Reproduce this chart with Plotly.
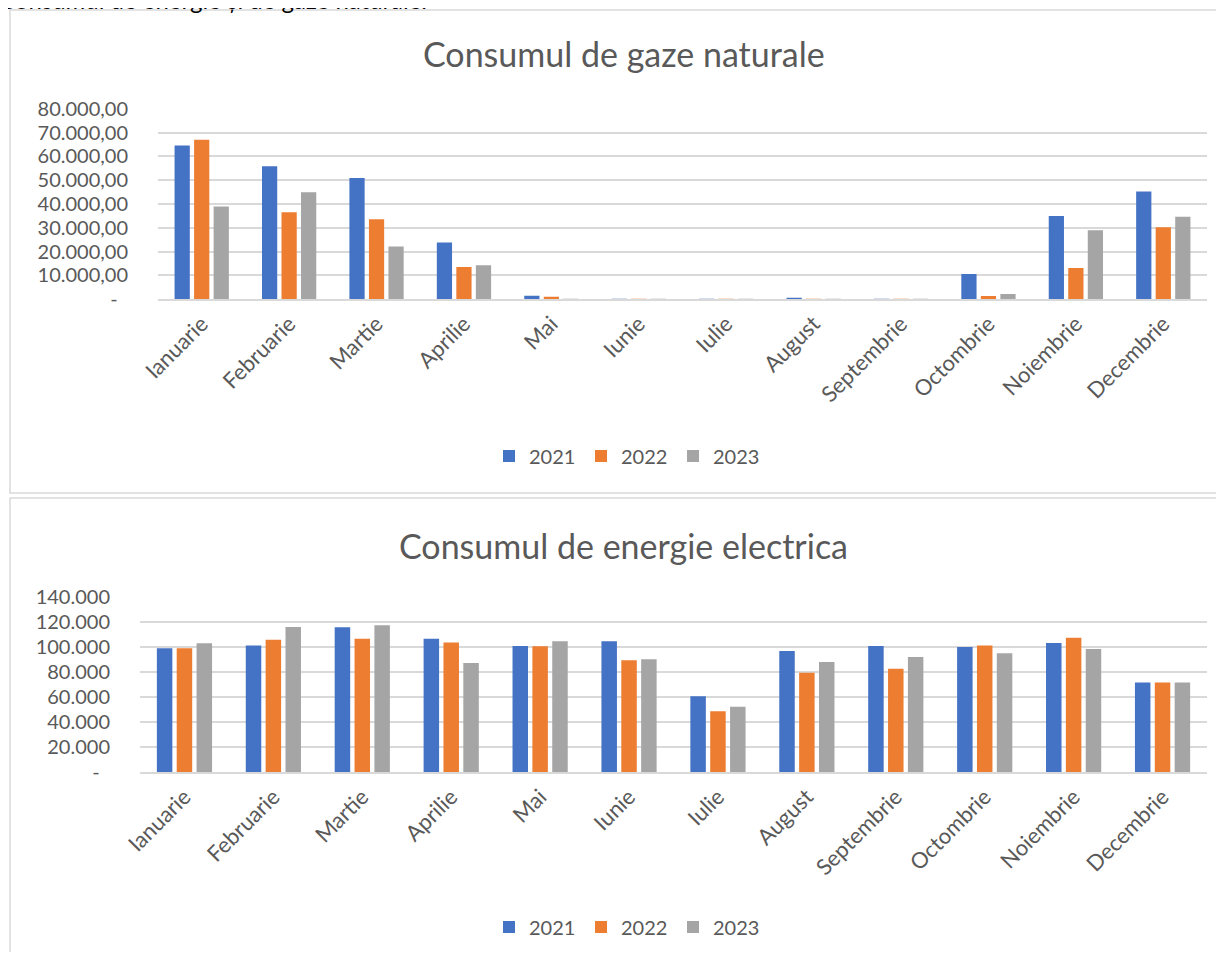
import plotly.graph_objects as go

# Page is 1224x960; the browser's default 8px body margin offsets the figure,
# so the figure is sized to fit inside it and all positions are given in page pixels.
OFF = 8
W, H = 1224 - 2 * OFF, 960 - 2 * OFF

months = ["Ianuarie", "Februarie", "Martie", "Aprilie", "Mai", "Iunie", "Iulie",
          "August", "Septembrie", "Octombrie", "Noiembrie", "Decembrie"]
years = ["2021", "2022", "2023"]
colors = ["#4472C4", "#ED7D31", "#A5A5A5"]

gaz_2021 = [64600, 55800, 50900, 23800, 1500, 60, 40, 400, 80, 10600, 35000, 45200]
gaz_2022 = [67000, 36500, 33600, 13600, 1100, 30, 60, 40, 30, 1400, 13100, 30200]
gaz_2023 = [39000, 44900, 22200, 14300, 150, 80, 80, 70, 80, 2200, 29000, 34700]

ee_2021 = [98900, 101000, 115600, 106500, 100700, 104500, 60600, 96700, 100700, 99900, 103100, 71500]
ee_2022 = [98900, 105700, 106500, 103400, 100500, 89300, 48600, 79400, 82600, 101000, 107300, 71500]
ee_2023 = [102900, 115900, 117200, 87200, 104500, 90100, 52300, 88000, 91900, 94900, 98300, 71500]

gaz_tickvals = [0, 10000, 20000, 30000, 40000, 50000, 60000, 70000, 80000]
gaz_ticktext = ["-\u00a0\u00a0", "10.000,00", "20.000,00", "30.000,00", "40.000,00",
                "50.000,00", "60.000,00", "70.000,00", "80.000,00"]
ee_tickvals = [0, 20000, 40000, 60000, 80000, 100000, 120000, 140000]
ee_ticktext = ["-\u00a0\u00a0", "20.000", "40.000", "60.000", "80.000", "100.000",
               "120.000", "140.000"]

title_gaz = "Consumul de gaze naturale"
title_ee = "Consumul de energie electrica"
heading = "Consumul de energie și de gaze naturale."

FONT = "Lato"
GRAY_TXT = "#595959"
GRID = "#D9D9D9"


def px_x(x):
    return (x - OFF) / W


def px_y(y):
    return 1 - (y - OFF) / H


fig = go.Figure()

for ys, name, c in zip([gaz_2021, gaz_2022, gaz_2023], years, colors):
    fig.add_trace(go.Bar(x=months, y=ys, name=name, marker=dict(color=c, line=dict(width=0)),
                         xaxis="x", yaxis="y", legend="legend"))
for ys, name, c in zip([ee_2021, ee_2022, ee_2023], years, colors):
    fig.add_trace(go.Bar(x=months, y=ys, name=name, marker=dict(color=c, line=dict(width=0)),
                         xaxis="x2", yaxis="y2", legend="legend2"))

yfont = dict(family=FONT, size=20, color=GRAY_TXT)
xfont = dict(family=FONT, size=22, color=GRAY_TXT)
lfont = dict(family=FONT, size=20, color=GRAY_TXT)

fig.update_layout(
    width=W, height=H,
    margin=dict(l=0, r=0, t=0, b=0, autoexpand=False),
    paper_bgcolor="white", plot_bgcolor="white",
    barmode="group", bargap=0.33, bargroupgap=0.22,
    font=dict(family=FONT, color=GRAY_TXT),
    xaxis=dict(domain=[px_x(158), px_x(1207)], anchor="y", tickangle=-45,
               tickfont=xfont, showline=True, linecolor=GRID, linewidth=2,
               showgrid=False, ticks="", ticklabelstandoff=1, automargin=False),
    yaxis=dict(domain=[px_y(299.3), px_y(108.7)], anchor="x", range=[0, 80000],
               tickvals=gaz_tickvals, ticktext=gaz_ticktext, tickfont=yfont,
               showgrid=True, gridcolor=GRID, gridwidth=2, zeroline=False,
               ticks="", ticklabelstandoff=29, showline=False, automargin=False),
    xaxis2=dict(domain=[px_x(140), px_x(1207)], anchor="y2", tickangle=-45,
                tickfont=xfont, showline=True, linecolor=GRID, linewidth=2,
                showgrid=False, ticks="", ticklabelstandoff=1, automargin=False),
    yaxis2=dict(domain=[px_y(772.3), px_y(596.7)], anchor="x2", range=[0, 140000],
                tickvals=ee_tickvals, ticktext=ee_ticktext, tickfont=yfont,
                showgrid=True, gridcolor=GRID, gridwidth=2, zeroline=False,
                ticks="", ticklabelstandoff=29, showline=False, automargin=False),
    legend=dict(orientation="h", x=px_x(627), xanchor="center", y=px_y(456), yanchor="middle",
                font=lfont, bgcolor="rgba(0,0,0,0)",
                itemwidth=30, entrywidth=47, traceorder="normal"),
    legend2=dict(orientation="h", x=px_x(627), xanchor="center", y=px_y(927), yanchor="middle",
                 font=lfont, bgcolor="rgba(0,0,0,0)",
                 itemwidth=30, entrywidth=47, traceorder="normal"),
    showlegend=True,
)

# chart frames
fig.add_shape(type="rect", xref="paper", yref="paper",
              x0=px_x(10), x1=px_x(1222), y0=px_y(493), y1=px_y(10),
              line=dict(color=GRID, width=1.5), fillcolor="rgba(0,0,0,0)", layer="below")
fig.add_shape(type="rect", xref="paper", yref="paper",
              x0=px_x(10), x1=px_x(1222), y0=px_y(1000), y1=px_y(498),
              line=dict(color=GRID, width=1.5), fillcolor="rgba(0,0,0,0)", layer="below")

# titles
fig.add_annotation(text=title_gaz, xref="paper", yref="paper", x=px_x(624), y=px_y(54),
                   xanchor="center", yanchor="middle", showarrow=False,
                   font=dict(family=FONT, size=34, color=GRAY_TXT))
fig.add_annotation(text=title_ee, xref="paper", yref="paper", x=px_x(623), y=px_y(545),
                   xanchor="center", yanchor="middle", showarrow=False,
                   font=dict(family=FONT, size=34, color=GRAY_TXT))
# document heading (cut off at the top edge, as in the source page)
fig.add_annotation(text=heading, xref="paper", yref="paper", x=px_x(-3), y=px_y(16),
                   xanchor="left", yanchor="bottom", showarrow=False,
                   font=dict(family=FONT, size=24, color="#000000"))

fig.write_html("out.html")
